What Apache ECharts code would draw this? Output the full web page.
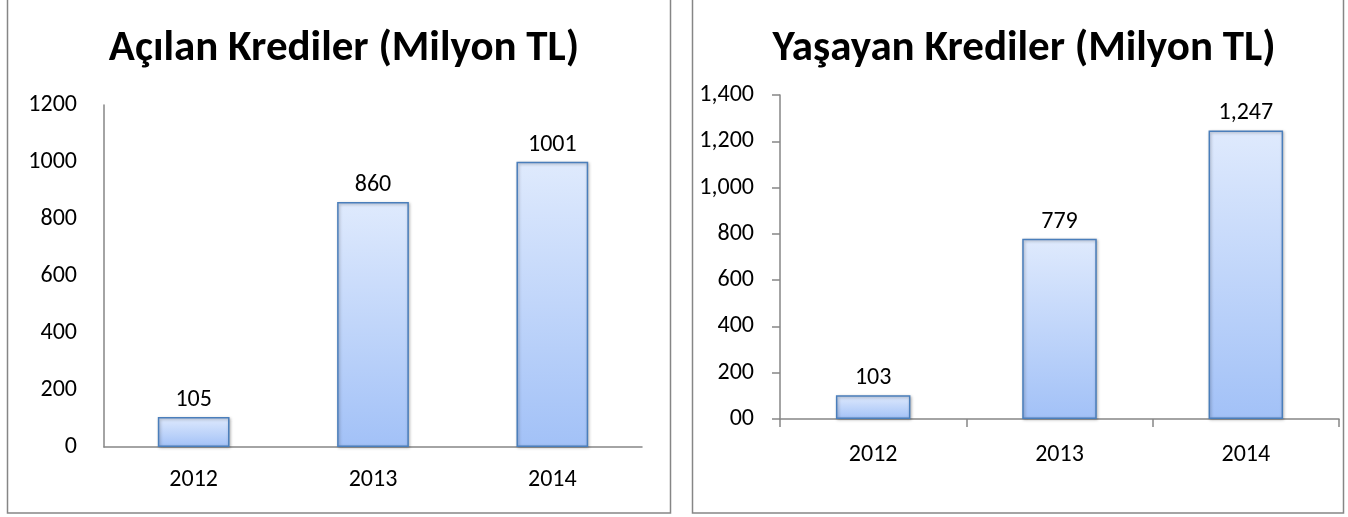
<!DOCTYPE html>
<html>
<head>
<meta charset="utf-8">
<script src="https://cdn.jsdelivr.net/npm/echarts@6/dist/echarts.min.js"></script>
<style>
  html, body { margin: 0; padding: 0; background: #fff; }
  #krediChart { width: 1348px; height: 517px; }
</style>
</head>
<body>
<div id="krediChart"></div>
<script>
  // kategoriler (yıllar)
  var years = ['2012', '2013', '2014']
  // açılan krediler (milyon TL)
  var acilanKrediler = [105, 860, 1001]
  // yaşayan krediler (milyon TL)
  var yasayanKrediler = [103, 779, 1247]
  // eksen etiketleri
  var acilanTicks = ['0', '200', '400', '600', '800', '1000', '1200']
  var yasayanTicks = ['00', '200', '400', '600', '800', '1,000', '1,200', '1,400']

  var fontFamily = 'Carlito, Lato, "Open Sans", sans-serif'
  var axisGray = '#868686'

  var barStyle = {
    color: new echarts.graphic.LinearGradient(0, 0, 0, 1, [{
      offset: 0,
      color: '#dfeafd'
    }, {
      offset: 1,
      color: '#a2c1f7'
    }]),
    borderColor: '#4a7ebb',
    borderWidth: 1.5,
    shadowColor: 'rgba(0,0,0,0.3)',
    shadowBlur: 3,
    shadowOffsetX: 1,
    shadowOffsetY: 1
  }

  function fmtThousands (v) {
    return String(v).replace(/\B(?=(\d{3})+(?!\d))/g, ',')
  }

  var chart = echarts.init(document.getElementById('krediChart'))
  chart.setOption({
    animation: false,
    textStyle: { fontFamily: fontFamily },
    graphic: [{
      type: 'rect',
      shape: { x: 7.5, y: -5, width: 663, height: 518 },
      style: { fill: 'none', stroke: axisGray, lineWidth: 1.5 }
    }, {
      type: 'rect',
      shape: { x: 692.5, y: -5, width: 651, height: 518 },
      style: { fill: 'none', stroke: axisGray, lineWidth: 1.5 }
    }],
    title: [{
      text: 'Açılan Krediler (Milyon TL)',
      left: 339,
      top: 23,
      textAlign: 'center',
      textStyle: { fontFamily: fontFamily, fontSize: 43, fontWeight: 'bold', color: '#000' }
    }, {
      text: 'Yaşayan Krediler (Milyon TL)',
      left: 1019,
      top: 23,
      textAlign: 'center',
      textStyle: { fontFamily: fontFamily, fontSize: 43, fontWeight: 'bold', color: '#000' }
    }],
    grid: [
      { left: 104, top: 105, width: 538, height: 342 },
      { left: 780, top: 95, width: 559, height: 324 }
    ],
    xAxis: [{
      type: 'category',
      gridIndex: 0,
      data: years,
      axisLine: { lineStyle: { color: axisGray, width: 1.5 } },
      axisTick: { show: false },
      axisLabel: { color: '#000', fontSize: 24, margin: 21 }
    }, {
      type: 'category',
      gridIndex: 1,
      data: years,
      axisLine: { lineStyle: { color: axisGray, width: 1.5 } },
      axisTick: { show: true, length: 8, lineStyle: { color: axisGray, width: 1.5 } },
      axisLabel: { color: '#000', fontSize: 24, margin: 24 }
    }],
    yAxis: [{
      type: 'value',
      gridIndex: 0,
      min: 0,
      max: 1200,
      interval: 200,
      axisLine: { show: true, lineStyle: { color: axisGray, width: 1.5 } },
      axisTick: { show: false },
      splitLine: { show: false },
      axisLabel: {
        color: '#000',
        fontSize: 24,
        margin: 27,
        formatter: function (v) {
          return acilanTicks[Math.round(v / 200)]
        }
      }
    }, {
      type: 'value',
      gridIndex: 1,
      min: 0,
      max: 1400,
      interval: 200,
      axisLine: { show: true, lineStyle: { color: axisGray, width: 1.5 } },
      axisTick: { show: true, length: 8, lineStyle: { color: axisGray, width: 1.5 } },
      splitLine: { show: false },
      axisLabel: {
        color: '#000',
        fontSize: 24,
        margin: 26,
        formatter: function (v) {
          return yasayanTicks[Math.round(v / 200)]
        }
      }
    }],
    series: [{
      name: 'Açılan Krediler',
      type: 'bar',
      xAxisIndex: 0,
      yAxisIndex: 0,
      barWidth: '40%',
      itemStyle: barStyle,
      label: {
        show: true,
        position: 'top',
        distance: 5,
        color: '#000',
        fontSize: 24
      },
      data: acilanKrediler
    }, {
      name: 'Yaşayan Krediler',
      type: 'bar',
      xAxisIndex: 1,
      yAxisIndex: 1,
      barWidth: '40%',
      itemStyle: barStyle,
      label: {
        show: true,
        position: 'top',
        distance: 5,
        color: '#000',
        fontSize: 24,
        formatter: function (p) {
          return fmtThousands(p.value)
        }
      },
      data: yasayanKrediler
    }]
  })
</script>
</body>
</html>
